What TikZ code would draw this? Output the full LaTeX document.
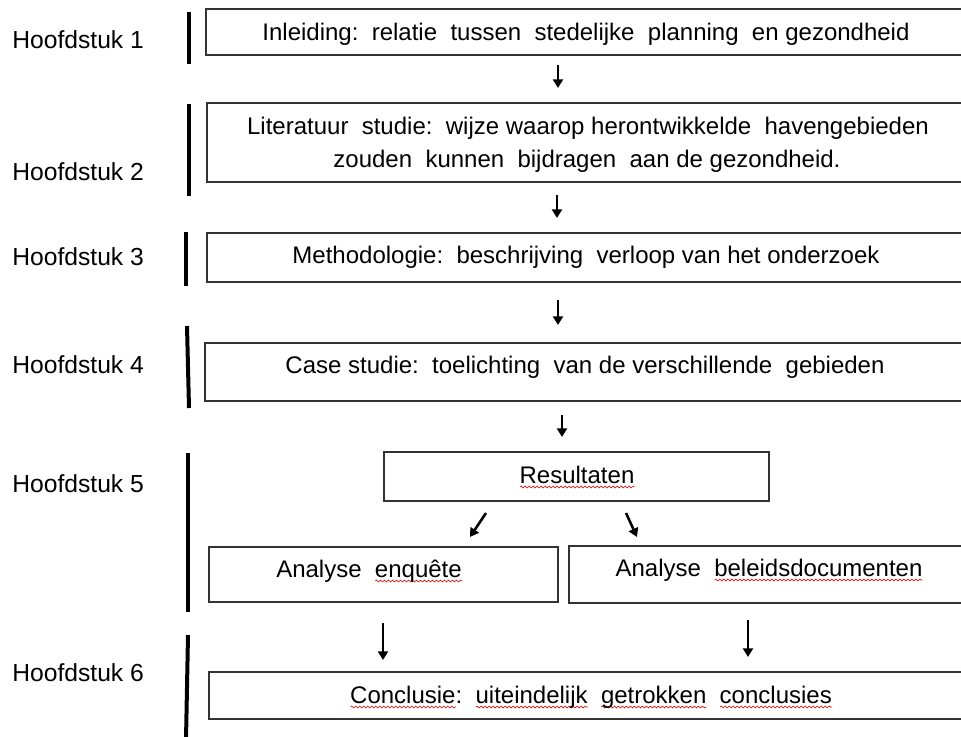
\documentclass[tikz,border=0pt]{standalone}
\usepackage{fontspec}
\setmainfont{Liberation Sans}
\usetikzlibrary{arrows.meta,fit,decorations.pathmorphing}
\newdimen\rwavewd
\newcommand\redwave[1]{\setbox0\hbox{#1}\rwavewd=\wd0\leavevmode\rlap{\tikz[baseline=0pt,x=1pt,y=1pt]{\draw[red!85!black,line width=0.45pt,decorate,decoration={snake,amplitude=0.7pt,segment length=3pt}] (0pt,-3pt) -- (\rwavewd,-3pt);}}#1}
\tikzset{
  box/.style={draw=black!80, line width=1.1pt, inner sep=0pt, fill=none},
  txt/.style={inner sep=0pt, anchor=base, font=\fontsize{18}{21}\selectfont},
  chap/.style={inner sep=0pt, anchor=base west, font=\fontsize{18.5}{21}\selectfont},
  bar/.style={line width=3pt, black},
  arr/.style={line width=1.9pt, -{Triangle[width=7.5pt,length=6.5pt]}},
}
\begin{document}
\begin{tikzpicture}[x=0.75pt,y=-0.75pt]
\useasboundingbox (0,0) rectangle (961,736);
\clip (0,0) rectangle (961,736);
\fill[white] (0,0) rectangle (961,736);
% chapter labels
\node[chap] (h1) at (12,48) {Hoofdstuk 1};
\node[chap] (h2) at (12,180) {Hoofdstuk 2};
\node[chap] (h3) at (12,265) {Hoofdstuk 3};
\node[chap] (h4) at (12,373) {Hoofdstuk 4};
\node[chap] (h5) at (12,492) {Hoofdstuk 5};
\node[chap] (h6) at (12,681) {Hoofdstuk 6};
% bars
\draw[bar] (189,12) -- (189,64);
\draw[bar] (189,104) -- (189,196);
\draw[bar] (186,232) -- (186,286);
\draw[bar] (187,326) -- (189,408);
\draw[bar] (188,453) -- (188,612);
\draw[bar] (188,635) -- (186,740);
% boxes
\node[box, fit={(206,9) (975,55)}] (b1) {};
\node[box, fit={(207,103) (975,182)}] (b2) {};
\node[box, fit={(207,233) (975,282)}] (b3) {};
\node[box, fit={(205,343) (975,401)}] (b4) {};
\node[box, fit={(384,452) (769,501)}] (b5) {};
\node[box, fit={(209,547) (558,602)}] (b6) {};
\node[box, fit={(569,546) (975,603)}] (b7) {};
\node[box, fit={(209,672) (975,719)}] (b8) {};
% texts
\node[txt] (t1) at (586,40) {Inleiding:\ \ relatie\ \ tussen\ \ stedelijke\ \ planning\ \ en gezondheid};
\node[txt] (t2a) at (588,134) {Literatuur\ \ studie:\ \ wijze waarop herontwikkelde\ \ havengebieden};
\node[txt] (t2b) at (587,167) {zouden\ \ kunnen\ \ bijdragen\ \ aan de gezondheid.};
\node[txt] (t3) at (586,263) {Methodologie:\ \ beschrijving\ \ verloop van het onderzoek};
\node[txt] (t4) at (585,373) {Case studie:\ \ toelichting\ \ van de verschillende\ \ gebieden};
\node[txt] (t5) at (577,483) {\redwave{Resultaten}};
\node[txt] (t6) at (369,577) {Analyse\ \ \redwave{enquête}};
\node[txt] (t7) at (769,576) {Analyse\ \ \redwave{beleidsdocumenten}};
\node[txt] (t8) at (591,703) {\redwave{Conclusie}:\ \ \redwave{uiteindelijk}\ \ \redwave{getrokken}\ \ \redwave{conclusies}};
% arrows
\coordinate (a1s) at (558,65);  \coordinate (a1e) at (558,88);
\coordinate (a2s) at (557,195); \coordinate (a2e) at (557,218);
\coordinate (a3s) at (558,300); \coordinate (a3e) at (558,325);
\coordinate (a4s) at (562,415); \coordinate (a4e) at (562,437);
\coordinate (a5s) at (486,513); \coordinate (a5e) at (470,537);
\coordinate (a6s) at (626,513); \coordinate (a6e) at (637,537);
\coordinate (a7s) at (383,623); \coordinate (a7e) at (383,660);
\coordinate (a8s) at (748,620); \coordinate (a8e) at (748,657);
\foreach \i in {1,...,8} \draw[arr] (a\i s) -- (a\i e);
\end{tikzpicture}
\end{document}
